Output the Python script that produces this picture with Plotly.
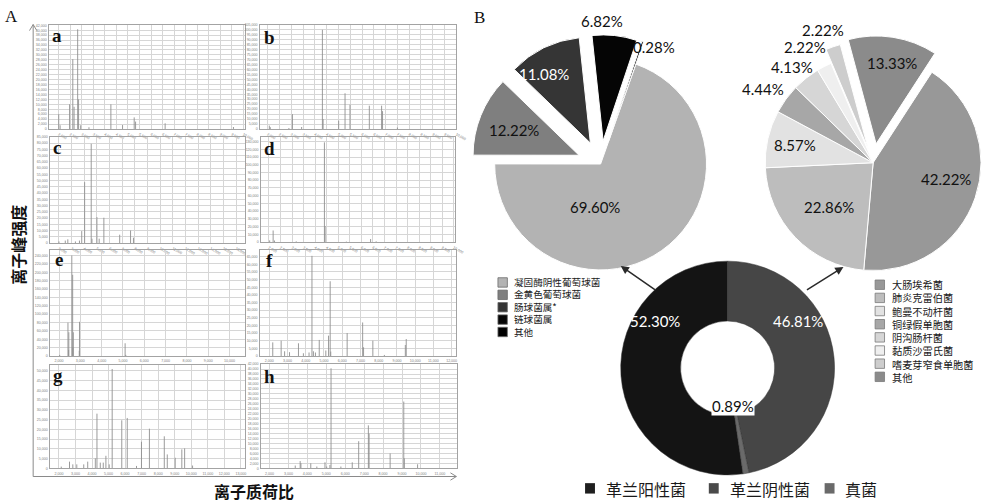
import plotly.graph_objects as go

W, H = 995, 504

# ---------------- Panel A: MALDI-TOF spectra (m/z, intensity) ----------------
a_mz = [2000, 2060, 2470, 2610, 2665, 2820, 2860, 2950, 3310, 4260, 4765, 5270, 5330, 6610, 9570]
a_int = [6000, 1500, 10000, 28300, 9000, 40400, 12000, 1500, 700, 10000, 1600, 4700, 3000, 2300, 800]

b_mz = [2070, 2110, 2900, 3050, 3440, 4320, 4350, 5010, 5280, 5490, 6310, 6830, 6870, 7500]
b_int = [3400, 1800, 1000, 15000, 2000, 100000, 10000, 8400, 36000, 24500, 23500, 23500, 18000, 1500]

c_mz = [2000, 2500, 2700, 3300, 3620, 3800, 4030, 4550, 4610, 5000, 5180, 5550, 6800, 7660, 7890]
c_int = [1300, 2000, 3000, 1300, 2000, 9600, 48800, 79500, 3500, 20800, 3500, 20300, 6700, 10100, 4300]

d_mz = [2030, 2180, 2240, 3180, 4400, 4430, 5350, 6400, 6640]
d_int = [2200, 15000, 2000, 900, 129000, 20700, 600, 3900, 900]

e_mz = [2030, 2420, 2450, 2460, 2600, 2640, 2650, 2670, 2950, 2960, 5100, 5130]
e_int = [3000, 80000, 15000, 57000, 240000, 194000, 21000, 57000, 13000, 82000, 30700, 3000]

f_mz = [2190, 2650, 2840, 3110, 3600, 3870, 4180, 4340, 4420, 4530, 4740, 5100, 5250, 5340,
        5370, 6270, 7120, 7170, 7680, 8310, 9460, 9510]
f_int = [9000, 10100, 3200, 2600, 8400, 1900, 2400, 65500, 3200, 2400, 10600, 3700, 13400, 48900,
         3000, 15100, 22000, 5800, 10100, 800, 7300, 11200]

g_mz = [2140, 2640, 2840, 3080, 3500, 3740, 4200, 4300, 4500, 4680, 4840, 5040, 5220, 5800,
        6130, 6690, 6990, 7470, 8370, 8550, 9030, 9430, 9600, 10080]
g_int = [850, 3400, 2000, 2000, 2000, 3400, 5100, 28000, 2900, 2900, 6400, 2000, 50900, 24600,
         25800, 1200, 13600, 20300, 16400, 7100, 5400, 9700, 10200, 1400]

h_mz = [3360, 3620, 3660, 4180, 4500, 4930, 5020, 5190, 5250, 5770, 6370, 6710, 7220, 7260,
        8370, 9090, 9120, 9820]
h_int = [1100, 2900, 2000, 2000, 700, 2400, 700, 1300, 40300, 700, 2400, 10900, 17300, 14000,
         6000, 26900, 4000, 1600]

# ---------------- Panel B: composition of isolates ----------------
gp_labels = ["凝固酶阴性葡萄球菌", "金黄色葡萄球菌", "肠球菌属*", "链球菌属", "其他"]
gp_values = [69.60, 12.22, 11.08, 6.82, 0.28]

gn_labels = ["大肠埃希菌", "肺炎克雷伯菌", "鲍曼不动杆菌", "铜绿假单胞菌", "阴沟肠杆菌",
             "黏质沙雷氏菌", "嗜麦芽窄食单胞菌", "其他"]
gn_values = [42.22, 22.86, 8.57, 4.44, 4.13, 2.22, 2.22, 13.33]

all_labels = ["革兰阳性菌", "革兰阴性菌", "真菌"]
all_values = [52.30, 46.81, 0.89]


def px(x):
    return x / W


def py(y):
    return 1 - y / H


CJK = "Noto Sans CJK SC"
NUM = "Lato"

fig = go.Figure()
layout = dict(width=W, height=H, autosize=False, margin=dict(l=0, r=0, t=0, b=0),
              paper_bgcolor="white", plot_bgcolor="white", showlegend=False,
              separators=".,", font=dict(family=CJK))
annotations = []
shapes = []

# spectrum panels: letter, data, x range, x step, y range, y step, pixel box, letter pos
panels = [
    ("a", a_mz, a_int, [1600, 10050], 500, [0, 42200], 2000, (50, 247, 23, 128), (58, 34)),
    ("b", b_mz, b_int, [1690, 10000], 500, [0, 105000], 5000, (263, 461, 23, 128), (272, 36)),
    ("c", c_mz, c_int, [1330, 16670], 1000, [0, 85000], 5000, (51, 247, 136, 243), (58, 147)),
    ("d", d_mz, d_int, [1670, 10070], 500, [0, 136000], 10000, (264, 460, 136, 242), (272, 148)),
    ("e", e_mz, e_int, [1600, 10700], 1000, [0, 253000], 20000, (51, 247, 250, 357), (60, 260)),
    ("f", f_mz, f_int, [1510, 12260], 1000, [0, 69300], 5000, (263, 461, 250, 357), (272, 261)),
    ("g", g_mz, g_int, [1490, 13220], 1000, [0, 52900], 5000, (51, 247, 366, 470), (59, 376)),
    ("h", h_mz, h_int, [1570, 11920], 1000, [0, 42000], 2000, (264, 462, 365, 470), (272, 377)),
]

for i, (tag, mz, inten, xr, xd, yr, yd, box, lpos) in enumerate(panels):
    n = i + 1
    sx = "" if n == 1 else str(n)
    xs, ys = [], []
    for m, v in zip(mz, inten):
        xs += [m, m, None]
        ys += [0, v, None]
    fig.add_trace(go.Scatter(x=xs, y=ys, mode="lines", xaxis="x" + sx, yaxis="y" + sx,
                             line=dict(color="#8e8e8e", width=0.9), hoverinfo="skip",
                             showlegend=False))
    x0, x1, y0, y1 = box
    axis_common = dict(showgrid=True, gridcolor="#d6d6d6", gridwidth=0.6, zeroline=False,
                       showline=True, mirror=True, linecolor="#a3a3a3", linewidth=1,
                       ticks="", tickfont=dict(size=3.6, color="#808080", family="Liberation Sans"),
                       tickformat=",d", fixedrange=True)
    layout["xaxis" + sx] = dict(domain=[px(x0), px(x1)], anchor="y" + sx, range=xr,
                                tick0=2000, dtick=xd, ticklabelstandoff=1, **axis_common)
    layout["yaxis" + sx] = dict(domain=[py(y1), py(y0)], anchor="x" + sx, range=yr,
                                tick0=0, dtick=yd, ticklabelstandoff=1, **axis_common)
    annotations.append(dict(x=px(lpos[0]), y=py(lpos[1]), xref="paper", yref="paper",
                            text="<b>%s</b>" % tag, showarrow=False, xanchor="center",
                            yanchor="middle",
                            font=dict(family="Liberation Serif", size=19, color="#111")))

# axis arrows framing panel A
axc = "#8a8a8a"
shapes.append(dict(type="line", xref="paper", yref="paper", x0=px(33.5), x1=px(33.5),
                   y0=py(478.3), y1=py(22.7), line=dict(color=axc, width=1)))
shapes.append(dict(type="path", xref="paper", yref="paper",
                   path="M %f %f L %f %f L %f %f" % (px(29.8), py(28.8), px(33.5), py(22.7),
                                                      px(37.2), py(28.8)),
                   line=dict(color=axc, width=1)))
shapes.append(dict(type="line", xref="paper", yref="paper", x0=px(33.5), x1=px(461),
                   y0=py(478.3), y1=py(478.3), line=dict(color=axc, width=1)))
shapes.append(dict(type="path", xref="paper", yref="paper",
                   path="M %f %f L %f %f L %f %f" % (px(455), py(474.6), px(461), py(478.3),
                                                      px(455), py(482)),
                   line=dict(color=axc, width=1)))

annotations += [
    dict(x=px(12), y=py(15), text="A", font=dict(family="Liberation Serif", size=17, color="#111")),
    dict(x=px(484), y=py(16), text="B", font=dict(family="Liberation Serif", size=17, color="#111")),
    dict(x=px(18), y=py(245), text="<b>离子峰强度</b>", textangle=-90,
         font=dict(family=CJK, size=16, color="#111")),
    dict(x=px(257), y=py(493), text="<b>离子质荷比</b>", font=dict(family=CJK, size=16, color="#111")),
]

# ---------------- Gram-positive pie ----------------
gp_colors = ["#b3b3b3", "#7f7f7f", "#353535", "#050505", "#000000"]
gp_box = (606.7, 163.3, 107, 0.22)  # centre x, centre y, radius, pull
cx, cy, r, pull = gp_box
half = r * (1 + pull)
fig.add_trace(go.Pie(values=gp_values, labels=gp_labels, sort=False, direction="clockwise",
                     rotation=19.5, pull=[0, pull, pull, pull, pull], textinfo="none",
                     hoverinfo="skip", showlegend=False,
                     marker=dict(colors=gp_colors, line=dict(color="white", width=1)),
                     domain=dict(x=[px(cx - half), px(cx + half)], y=[py(cy + half), py(cy - half)])))

gp_text_pos = [(601, 207), (519, 129), (550, 73), (608, 19), (661, 45)]
gp_text_col = ["#111", "#111", "white", "#111", "#111"]
for v, (tx, ty), c in zip(gp_values, gp_text_pos, gp_text_col):
    annotations.append(dict(x=px(tx), y=py(ty), text="%.2f%%" % v,
                            font=dict(family=NUM, size=15, color=c)))

# ---------------- Gram-negative pie (two wedges pulled out) ----------------
gn_colors = ["#989898", "#bdbdbd", "#e2e2e2", "#a7a7a7", "#d6d6d6", "#efefef", "#cdcdcd", "#8b8b8b"]
gn_cx, gn_cy, gn_r = 882, 162, 109
# (slice index, x offset, y offset) for exploded wedges
gn_pulled = [(7, 3, -19), (6, -5, -14)]
hidden = {k for k, _, _ in gn_pulled}
base_cols = [("rgba(0,0,0,0)" if k in hidden else c) for k, c in enumerate(gn_colors)]
base_line = [("rgba(0,0,0,0)" if k in hidden else "white") for k in range(len(gn_colors))]


def gn_trace(cols, lines, dx, dy):
    x0c, y0c = gn_cx + dx, gn_cy + dy
    return go.Pie(values=gn_values, labels=gn_labels, sort=False, direction="clockwise",
                  rotation=33, textinfo="none", hoverinfo="skip", showlegend=False,
                  marker=dict(colors=cols, line=dict(color=lines, width=1)),
                  domain=dict(x=[px(x0c - gn_r), min(1.0, px(x0c + gn_r))],
                              y=[py(y0c + gn_r), py(y0c - gn_r)]))


fig.add_trace(gn_trace(base_cols, base_line, 0, 0))
for k, dx, dy in gn_pulled:
    cols = [(gn_colors[j] if j == k else "rgba(0,0,0,0)") for j in range(len(gn_colors))]
    lines = [("white" if j == k else "rgba(0,0,0,0)") for j in range(len(gn_colors))]
    fig.add_trace(gn_trace(cols, lines, dx, dy))

gn_text_pos = [(956, 178), (837, 207), (803, 144), (771, 88), (800, 66), (813, 45), (831, 28), (901, 61)]
for v, (tx, ty) in zip(gn_values, gn_text_pos):
    annotations.append(dict(x=px(tx), y=py(ty), text="%.2f%%" % v,
                            font=dict(family=NUM, size=15, color="#111")))

# ---------------- Overall doughnut ----------------
all_colors = ["#141414", "#464646", "#6a6a6a"]
dc_x, dc_y, dc_r = 735, 369, 108
fig.add_trace(go.Pie(values=all_values, labels=all_labels, sort=False, direction="clockwise",
                     rotation=171.7, hole=0.44, textinfo="none", hoverinfo="skip",
                     showlegend=False,
                     marker=dict(colors=all_colors, line=dict(color="#333", width=0.5)),
                     domain=dict(x=[px(dc_x - dc_r), px(dc_x + dc_r)],
                                 y=[py(dc_y + dc_r), py(dc_y - dc_r)])))
all_text_pos = [(662, 322), (806, 322), (740, 407)]
all_text_col = ["white", "white", "#111"]
all_text_bg = ["rgba(0,0,0,0)", "rgba(0,0,0,0)", "white"]
for v, (tx, ty), c, bg in zip(all_values, all_text_pos, all_text_col, all_text_bg):
    annotations.append(dict(x=px(tx), y=py(ty), text="%.2f%%" % v, bgcolor=bg, borderpad=0,
                            font=dict(family=NUM, size=15, color=c)))

# arrows linking the doughnut to the two breakdown pies
for (hx, hy, tx, ty) in [(627, 266, 663, 291), (852, 267, 814, 291)]:
    annotations.append(dict(x=px(hx), y=py(hy), xref="paper", yref="paper", text="",
                            showarrow=True, axref="pixel", ayref="pixel",
                            ax=tx - hx, ay=ty - hy, arrowhead=2, arrowsize=1.1,
                            arrowwidth=1.5, arrowcolor="#2a2a2a"))


# ---------------- Legends (one multi-line text block per legend) ----------------
def legend_block(labels, colors, x_box, y_first, size, font_size, text_dx, border):
    step = 1.3 * font_size  # plotly line spacing for multi-line text
    rows = [y_first + k * step for k in range(len(labels))]
    for col, yr in zip(colors, rows):
        shapes.append(dict(type="rect", xref="paper", yref="paper",
                           x0=px(x_box), x1=px(x_box + size),
                           y0=py(yr + size / 2), y1=py(yr - size / 2),
                           fillcolor=col, line=dict(color=border, width=0.8)))
    annotations.append(dict(x=px(x_box + size + text_dx), y=py((rows[0] + rows[-1]) / 2),
                            text="<br>".join(labels), xanchor="left", align="left",
                            font=dict(family=CJK, size=font_size, color="#1a1a1a")))


legend_block(gp_labels, gp_colors, 503, 282.7, 9.5, 9.6, 5, "#6a6a6a")
legend_block(gn_labels, gn_colors, 884, 285, 9.5, 10.2, 5.5, "#7a7a7a")

bottom_x = [591, 716, 833]
for lab, col, bx in zip(all_labels, ["#1f1f1f", "#4a4a4a", "#6a6a6a"], bottom_x):
    shapes.append(dict(type="rect", xref="paper", yref="paper", x0=px(bx), x1=px(bx + 10),
                       y0=py(495.5), y1=py(485), fillcolor=col, line=dict(width=0)))
    annotations.append(dict(x=px(bx + 19), y=py(491), text=lab, xanchor="left",
                            font=dict(family=CJK, size=16, color="#1a1a1a")))

for a in annotations:
    a.setdefault("xref", "paper")
    a.setdefault("yref", "paper")
    a.setdefault("showarrow", False)
    a.setdefault("xanchor", "center")
    a.setdefault("yanchor", "middle")

layout["annotations"] = annotations
layout["shapes"] = shapes
fig.update_layout(**layout)
fig.write_html("out.html")
